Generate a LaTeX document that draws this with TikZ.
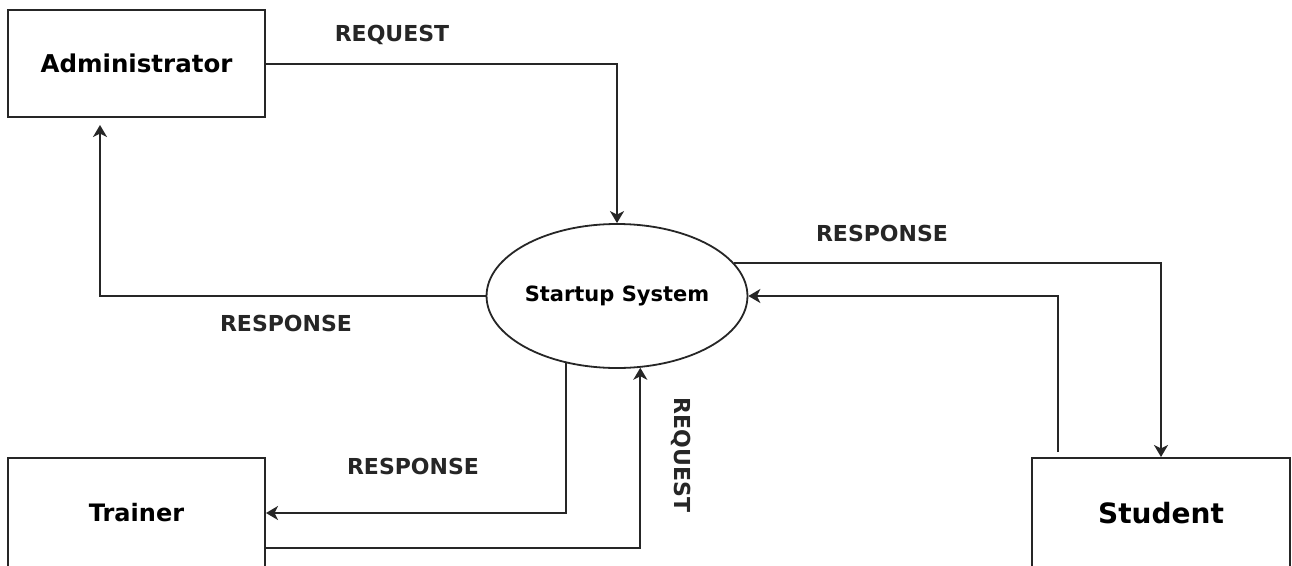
\documentclass[tikz,border=0pt]{standalone}
\usepackage{fontspec}
\setmainfont{DejaVu Sans}
\usetikzlibrary{arrows.meta,shapes.geometric,calc}
\begin{document}
\begin{tikzpicture}[x=1pt,y=-1pt,
  box/.style={draw=black!85, line width=2pt, rectangle, inner sep=0pt},
  flow/.style={draw=black!85, line width=2pt, -{Stealth[length=12pt,width=14pt,inset=3.5pt]}},
  lbl/.style={font=\fontsize{22}{26}\selectfont\bfseries, text=black!85, inner sep=0pt},
  ]
\clip (0,0) rectangle (1292,565);
\fill[white] (0,0) rectangle (1292,565);
\node[box, minimum width=257pt, minimum height=107pt, font=\fontsize{24.5}{28}\selectfont\bfseries] (admin) at (136.5,63.5) {Administrator};
\node[box, minimum width=257pt, minimum height=110pt, font=\fontsize{24}{28}\selectfont\bfseries] (trainer) at (136.5,513) {Trainer};
\node[box, minimum width=258pt, minimum height=110pt, font=\fontsize{28}{32}\selectfont\bfseries] (student) at (1161,513) {Student};
\node[draw=black!85, line width=1.8pt, ellipse, inner sep=0pt, minimum width=258pt, minimum height=144pt, font=\fontsize{21}{25}\selectfont\bfseries] (sys) at (617,296) {Startup System};

\node[lbl] (l1) at (392,35) {REQUEST};
\node[lbl] (l2) at (286,323) {RESPONSE};
\node[lbl] (l3) at (882,233) {RESPONSE};
\node[lbl] (l4) at (413,466) {RESPONSE};
\node[lbl, rotate=-90] (l5) at (681,455) {REQUEST};

\coordinate (a1) at (100,125);
\coordinate (s1) at (1058,452);
\coordinate (t1) at ($(trainer.east)+(0,35)$);

\draw[flow] (admin.east) -| (sys.north);
\draw[flow] (sys.west) -| (a1);
\draw[flow] (sys.16) -| (student.north);
\draw[flow] (s1) |- (sys.east);
\draw[flow] (sys.233) |- (trainer.east);
\draw[flow] (t1) -| (sys.288);
\end{tikzpicture}
\end{document}
